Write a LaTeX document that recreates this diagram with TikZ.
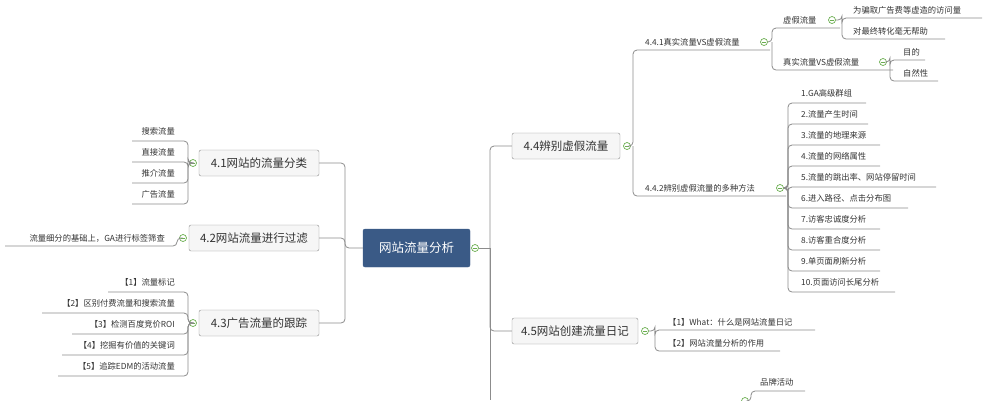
\documentclass[tikz,border=0pt]{standalone}
\usepackage{fontspec}
\setmainfont{Noto Sans CJK SC}
\definecolor{tx}{HTML}{333333}
\definecolor{ln}{HTML}{8C8C8C}
\definecolor{mkc}{HTML}{6AAE4F}
\definecolor{rootc}{HTML}{3A5A86}
\tikzset{
 sm/.style={inner sep=0pt,text=tx,font=\fontsize{8.3}{10}\selectfont},
 box/.style={draw=ln,fill=gray!7,rounded corners=2pt,text=tx,font=\fontsize{11.5}{13}\selectfont,minimum height=26pt,inner sep=0pt},
 con/.style={draw=ln,line width=0.8pt,rounded corners=4pt},
 mk/.style={circle,draw=mkc,fill=white,line width=0.7pt,minimum size=7pt,inner sep=0pt,
   path picture={\draw[mkc,line width=0.7pt](path picture bounding box.west)++(1.5pt,0)--++(4pt,0);}}
}
\begin{document}
\begin{tikzpicture}[x=1pt,y=-1pt]
\useasboundingbox (0,0) rectangle (990,400);
\clip (0,0) rectangle (990,400);
% root
\node[box,draw=rootc,fill=rootc,text=white,minimum width=107pt,minimum height=38pt,font=\fontsize{12.5}{14}\selectfont] (root) at (416.5,248) {网站流量分析};
% left boxes
\node[box,minimum width=120pt] (b41) at (259,163) {4.1网站的流量分类};
\node[box,minimum width=130pt] (b42) at (254,238) {4.2网站流量进行过滤};
\node[box,minimum width=120pt] (b43) at (259,323) {4.3广告流量的跟踪};
\draw[con] (root.west) -- (345,248) |- (b41.east);
\draw[con] (345,248) |- (b42.east);
\draw[con] (345,248) |- (b43.east);
% right trunk
\node[box,minimum width=108pt] (b44) at (566,146) {4.4辨别虚假流量};
\node[box,minimum width=126pt] (b45) at (575,331) {4.5网站创建流量日记};
\node[mk] (mr) at (475,248) {};
\draw[con] (mr.east) -- (490,248);
\draw[con] (490,248) |- (b44.west);
\draw[con] (490,248) |- (b45.west);
\draw[con] (490,248) -- (490,400);
% 4.1 children
\node[mk] (m41) at (193,163) {};
\foreach \t/\y in {搜索流量/131,直接流量/152,推介流量/173,广告流量/194}{
  \node[sm,anchor=east] at (175,\y) {\t};
  \draw[con] (m41.west) -- (188,163) |- (132,\y+10);
}
% 4.2 child
\node[mk] (m42) at (183,238) {};
\node[sm,anchor=east] (c42) at (165,238) {流量细分的基础上，GA进行标签筛查};
\draw[con] (m42.west) -- (177,238) |- (5,246);
% 4.3 children
\node[mk] (m43) at (193,323) {};
\foreach \t/\y/\xs in {【1】流量标记/282/108,【2】区别付费流量和搜索流量/303/42,【3】检测百度竞价ROI/324/72,【4】挖掘有价值的关键词/345/62,【5】追踪EDM的活动流量/366/58}{
  \node[sm,anchor=east] at (175,\y) {\t};
  \draw[con] (m43.west) -- (188,323) |- (\xs,\y+10);
}
% 4.4 children
\node[mk] (m44) at (627,146) {};
\node[sm,anchor=west] (t441) at (645,42) {4.4.1真实流量VS虚假流量};
\node[sm,anchor=west] (t442) at (645,188) {4.4.2辨别虚假流量的多种方法};
\draw[con] (m44.east) -- (633,146) |- (770,50);
\draw[con] (633,146) |- (786,196);
\node[mk] (m441) at (764,42) {};
\node[mk] (m442) at (780,188) {};
% 4.4.1 children
\node[sm,anchor=west] at (783,20) {虚假流量};
\node[sm,anchor=west] at (783,62) {真实流量VS虚假流量};
\draw[con] (m441.east) -- (772,42) |- (840,28);
\draw[con] (772,42) |- (893,70);
\node[mk] (mf) at (832,20) {};
\node[mk] (mt) at (883,62) {};
\node[sm,anchor=west] at (853,10) {为骗取广告费等虚造的访问量};
\node[sm,anchor=west] at (853,31) {对最终转化毫无帮助};
\draw[con] (mf.east) -- (842,20) |- (982,18);
\draw[con] (842,20) |- (945,39);
\node[sm,anchor=west] at (903,52) {目的};
\node[sm,anchor=west] at (903,73) {自然性};
\draw[con] (mt.east) -- (890,62) |- (925,60);
\draw[con] (890,62) |- (938,81);
% 4.4.2 children
\foreach \t/\y/\xe in {1.GA高级群组/93/866,2.流量产生时间/114/868,3.流量的地理来源/135/880,4.流量的网络属性/156/880,5.流量的跳出率、网站停留时间/177/936,6.进入路径、点击分布图/198/908,7.访客忠诚度分析/219/880,8.访客重合度分析/240/880,9.单页面刷新分析/261/880,10.页面访问长尾分析/282/895}{
  \node[sm,anchor=west] at (801,\y) {\t};
  \draw[con] (m442.east) -- (788,188) |- (\xe,\y+10);
}
% 4.5 children
\node[mk] (m45) at (645,331) {};
\node[sm,anchor=west] at (668,322) {【1】What：什么是网站流量日记};
\node[sm,anchor=west] at (668,343) {【2】网站流量分析的作用};
\draw[con] (m45.east) -- (655,331) |- (815,330);
\draw[con] (655,331) |- (780,351);
% bottom partial
\node[sm,anchor=west] at (760,382) {品牌活动};
\node[mk] (mb) at (745,401) {};
\draw[con] (mb.east) -- (751,401) |- (805,391);
\draw[con] (751,401) -- (751,410);
\end{tikzpicture}
\end{document}
